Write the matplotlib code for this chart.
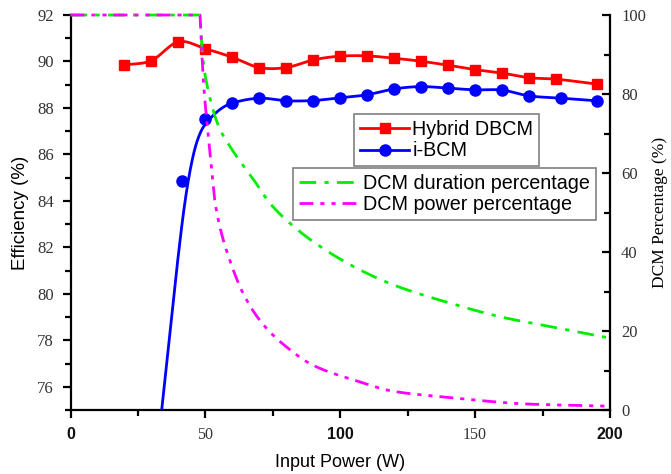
import numpy as np
import matplotlib
matplotlib.use("Agg")
import matplotlib.pyplot as plt
from matplotlib.lines import Line2D

# ---------------- data ----------------
hybrid_x = [20, 30, 40, 50, 60, 70, 80, 90, 100, 110, 120, 130, 140, 150, 160, 170, 180, 195]
hybrid_y = [89.85, 90.04, 90.85, 90.55, 90.18, 89.74, 89.74, 90.07, 90.23, 90.24, 90.14,
            90.01, 89.84, 89.65, 89.50, 89.30, 89.24, 89.03]

ibcm_x = [41.5, 50, 60, 70, 80, 90, 100, 110, 120, 130, 140, 150, 160, 170, 182, 195]
ibcm_y = [84.85, 87.52, 88.21, 88.42, 88.31, 88.32, 88.44, 88.57, 88.82, 88.92, 88.85,
          88.78, 88.77, 88.52, 88.42, 88.31]

# fitted i-BCM curve (rising part)
ibcm_fit_x = [33.8, 36, 38, 40, 42, 44, 46, 48, 50, 55]
ibcm_fit_y = [75.0, 77.4, 79.6, 81.7, 83.6, 85.1, 86.2, 86.9, 87.3, 87.9]

dur_x = [0, 48, 49, 51, 55, 60, 68, 74, 80, 90, 105, 120, 140, 160, 178, 200]
dur_y = [100, 100, 89.4, 81.0, 71.7, 65.8, 58.2, 52.3, 48.1, 42.6, 36.3, 31.6, 27.2, 23.5, 21.1, 18.2]

pow_x = [0, 48, 49, 50, 51, 52, 53.5, 55.5, 59, 64, 71, 80, 90, 105, 120, 140, 170, 198]
pow_y = [100, 100, 86, 77, 70, 63, 53, 46, 38, 29.5, 22, 16, 11.3, 7.6, 4.7, 3.2, 1.5, 1.0]

xtick_vals = [0, 50, 100, 150, 200]
xtick_labels = ["0", "50", "100", "150", "200"]
ytick_left = [76, 78, 80, 82, 84, 86, 88, 90, 92]
ytick_right = [0, 20, 40, 60, 80, 100]


def hermite(xs, ys, mode="fd", n=30):
    x = np.asarray(xs, float)
    y = np.asarray(ys, float)
    h = np.diff(x)
    d = np.diff(y) / h
    m = np.empty_like(y)
    m[0], m[-1] = d[0], d[-1]
    if mode == "fd":
        m[1:-1] = (y[2:] - y[:-2]) / (x[2:] - x[:-2])
    else:  # monotone (Fritsch-Carlson)
        for i in range(1, len(x) - 1):
            if d[i - 1] * d[i] <= 0:
                m[i] = 0.0
            else:
                w1 = 2 * h[i] + h[i - 1]
                w2 = h[i] + 2 * h[i - 1]
                m[i] = (w1 + w2) / (w1 / d[i - 1] + w2 / d[i])
    X, Y = [], []
    for i in range(len(x) - 1):
        t = np.linspace(0, 1, n)
        if i > 0:
            t = t[1:]
        h00 = 2 * t ** 3 - 3 * t ** 2 + 1
        h10 = t ** 3 - 2 * t ** 2 + t
        h01 = -2 * t ** 3 + 3 * t ** 2
        h11 = t ** 3 - t ** 2
        X.append(x[i] + t * h[i])
        Y.append(h00 * y[i] + h10 * h[i] * m[i] + h01 * y[i + 1] + h11 * h[i] * m[i + 1])
    return np.concatenate(X), np.concatenate(Y)


def corner_curve(xs, ys):
    # flat part up to the corner, smooth monotone curve after it
    cx, cy = hermite(xs[1:], ys[1:], mode="pchip")
    return np.concatenate([[xs[0]], cx]), np.concatenate([[ys[0]], cy])


# ---------------- figure ----------------
fig = plt.figure(figsize=(6.71, 4.74), dpi=100)
ax = fig.add_axes([0.1051, 0.135, 0.804, 0.8333])
ax2 = ax.twinx()

red = "#ff0000"
blue = "#0000ff"
green = "#00ee00"
magenta = "#ff00ff"

hx, hy = hermite(hybrid_x, hybrid_y, mode="fd")
ax.plot(hx, hy, color=red, lw=2.0, zorder=3)
ax.plot(hybrid_x, hybrid_y, ls="none", marker="s", ms=7.5, color=red, zorder=4)

bx_pts = ibcm_fit_x + ibcm_x[2:]
by_pts = ibcm_fit_y + ibcm_y[2:]
bx, by = hermite(bx_pts, by_pts, mode="fd")
ax.plot(bx, by, color=blue, lw=2.0, zorder=3)
ax.plot(ibcm_x, ibcm_y, ls="none", marker="o", ms=8, color=blue, zorder=4)

dx, dy = corner_curve(dur_x, dur_y)
ax2.plot(dx, dy, color=green, lw=2.0, dashes=(6, 3, 1.5, 3), clip_on=False)
px, py = corner_curve(pow_x, pow_y)
ax2.plot(px, py, color=magenta, lw=2.0, dashes=(5, 2.5, 1.5, 2.5, 1.5, 2.5), clip_on=False)

ax.set_xlim(0, 200)
ax.set_ylim(75, 92)
ax2.set_ylim(0, 100)

ax.set_xticks(xtick_vals, labels=xtick_labels)
ax.set_xticks([25, 75, 125, 175], minor=True)
ax.set_yticks(ytick_left, labels=[str(v) for v in ytick_left])
ax.set_yticks(np.arange(75, 92, 1), minor=True)
ax2.set_yticks(ytick_right, labels=[str(v) for v in ytick_right])
ax2.set_yticks([10, 30, 50, 70, 90], minor=True)

tick_col = "#333333"
for lab in ax.get_xticklabels():
    if lab.get_text() in ("0", "100", "200"):
        lab.set_fontfamily("Liberation Sans")
        lab.set_fontweight("bold")
        lab.set_fontsize(11.5)
        lab.set_color("#111111")
    else:
        lab.set_fontfamily("Liberation Serif")
        lab.set_fontsize(11.5)
        lab.set_color(tick_col)
for lab in ax.get_yticklabels():
    lab.set_fontfamily("Liberation Serif")
    lab.set_fontsize(12)
    lab.set_color(tick_col)
for lab in ax2.get_yticklabels():
    lab.set_fontfamily("Liberation Serif")
    lab.set_fontsize(12)
    lab.set_color(tick_col)

for a in (ax, ax2):
    a.spines["top"].set_visible(False)
    for s in a.spines.values():
        s.set_linewidth(1.6)
ax.spines["right"].set_visible(False)
ax2.spines["left"].set_visible(False)
ax2.spines["bottom"].set_visible(False)

ax.tick_params(axis="both", which="major", direction="out", length=6, width=1.6, pad=6)
ax.tick_params(axis="both", which="minor", direction="out", length=4, width=1.6)
ax2.tick_params(axis="y", which="major", direction="in", length=6, width=1.6, pad=8)
ax2.tick_params(axis="y", which="minor", direction="in", length=4, width=1.6)

ax.set_xlabel("Input Power (W)", fontfamily="Liberation Sans", fontsize=13, labelpad=8)
ax.set_ylabel("Efficiency (%)", fontfamily="Liberation Sans", fontsize=13.5, labelpad=6)
ax2.set_ylabel("DCM Percentage (%)", fontfamily="Liberation Serif", fontsize=12.5, labelpad=4)

# legends
h1 = [Line2D([], [], color=red, lw=2.0, marker="s", ms=7.5),
      Line2D([], [], color=blue, lw=2.0, marker="o", ms=8)]
leg1 = ax2.legend(h1, ["Hybrid DBCM", "i-BCM"], loc="upper left",
                  bbox_to_anchor=(0.5255, 0.749), borderaxespad=0,
                  prop={"family": "Liberation Sans", "size": 14.2},
                  fancybox=False, edgecolor="#808080", framealpha=1,
                  handlelength=2.5, handletextpad=0.15, borderpad=0.3, labelspacing=0.12)
leg1.get_frame().set_linewidth(1.2)
ax2.add_artist(leg1)
h2 = [Line2D([], [], color=green, lw=2.0, dashes=(6, 3, 1.5, 3)),
      Line2D([], [], color=magenta, lw=2.0, dashes=(5, 2.5, 1.5, 2.5, 1.5, 2.5))]
leg2 = ax2.legend(h2, ["DCM duration percentage", "DCM power percentage"], loc="upper left",
                  bbox_to_anchor=(0.412, 0.613), borderaxespad=0,
                  prop={"family": "Liberation Sans", "size": 14.2},
                  fancybox=False, edgecolor="#808080", framealpha=1,
                  handlelength=3.1, handletextpad=0.15, borderpad=0.3, labelspacing=0.12)
leg2.get_frame().set_linewidth(1.2)

fig.savefig("out.png", dpi=100)
